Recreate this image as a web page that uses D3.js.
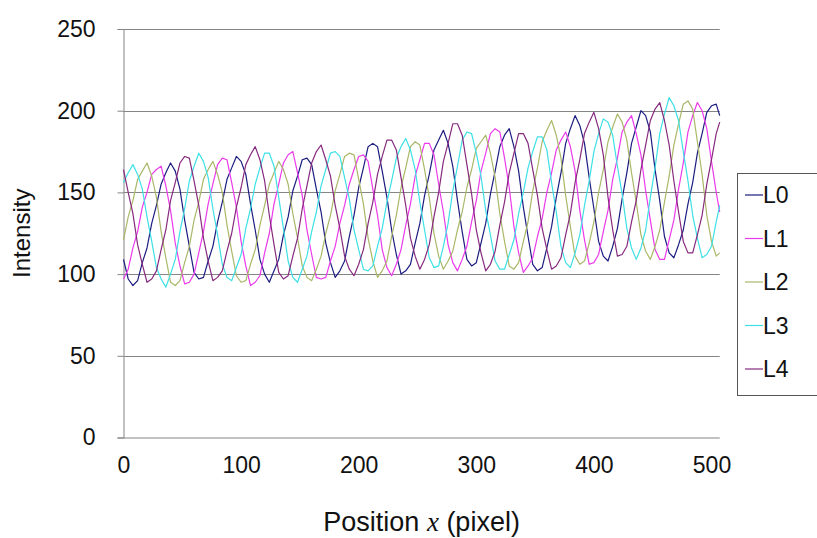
<!DOCTYPE html>
<html>
<head>
<meta charset="utf-8">
<script src="https://cdn.jsdelivr.net/npm/d3@7/dist/d3.min.js"></script>
<style>
  body { margin: 0; background: #fff; }
  svg { display: block; font-family: "Liberation Sans", Arial, sans-serif; }
</style>
</head>
<body>
<svg id="chart" width="817" height="538"></svg>
<script>
// Axis ticks and series labels
const xTicks = [0, 100, 200, 300, 400, 500];
const yTicks = [0, 50, 100, 150, 200, 250];
const seriesNames = ["L0", "L1", "L2", "L3", "L4"];
const seriesColors = ["#1c1c80", "#ea3aea", "#a9b868", "#3de0e6", "#862a7e"];

// Sample positions along the scan line (pixel), every 4 px up to the last column
const positions = d3.range(0, 505, 4).concat([507]);

// Intensity read at each sample position
const L0 = [109,97,93,96,107,116,131,142,155,162, 168,163,152,133,117,101,97,98,108,117,
            132,144,158,165,172,169,161,143,127,109, 100,95,102,109,124,135,151,160,170,171,
            167,152,138,119,107,98,102,108,123,136, 153,165,178,180,178,163,147,127,112,100,
            102,106,119,131,148,161,176,182,188,180, 166,145,126,109,105,107,119,131,149,163,
            178,185,189,178,163,141,123,106,102,104, 116,129,147,162,180,189,197,191,180,159,
            140,120,111,108,117,128,146,162,180,190, 200,197,187,164,145,123,113,110,118,127,
            143,156,174,186,199,203,204,197];
const L1 = [97,103,116,126,141,150,161,164,166,154, 139,119,105,94,95,100,113,126,143,155,
            167,171,170,156,141,120,105,93,95,99, 113,125,143,155,168,173,175,162,148,127,
            112,98,97,98,108,117,131,142,155,164, 172,173,169,152,136,115,104,99,106,115,
            130,143,160,170,180,180,173,155,138,118, 107,102,109,117,132,145,163,174,186,189,
            187,171,153,129,113,101,105,110,123,134, 150,162,176,182,187,178,163,139,121,106,
            107,112,126,139,158,171,187,193,197,186, 173,151,133,115,109,109,121,133,152,168,
            187,197,205,200,189,169,150,138];
const L2 = [121,135,145,158,163,168,160,147,126,110, 95,93,96,107,117,133,144,158,164,169,
            161,150,130,114,99,95,96,106,115,130, 142,155,162,169,164,155,137,122,105,98,
            96,103,111,125,136,151,161,172,174,173, 158,143,122,108,98,102,108,123,136,153,
            165,178,181,179,164,147,125,111,103,108, 114,127,138,153,164,177,181,185,174,159,
            137,120,105,103,107,120,132,151,165,181, 188,194,185,171,148,129,111,106,108,119,
            132,150,164,181,190,198,193,182,162,144, 124,114,109,117,127,144,160,179,192,204,
            206,201,181,161,136,120,111,113];
const L3 = [156,162,167,161,152,135,120,104,97,92, 100,109,126,140,157,166,174,169,159,140,
            124,106,98,96,104,112,128,140,155,165, 174,174,166,147,128,108,98,95,103,111,
            126,138,154,164,174,175,172,159,146,127, 115,103,102,105,117,128,144,157,171,178,
            183,176,164,144,127,110,104,105,117,131, 151,166,182,187,186,174,160,139,124,108,
            103,103,112,121,137,150,165,175,184,184, 176,156,138,117,107,104,113,124,142,157,
            175,186,195,193,185,166,149,128,116,109, 116,127,147,165,186,198,208,203,194,175,
            157,136,122,110,112,117,132,142];
const L4 = [164,150,137,118,106,95,97,102,115,127, 145,156,168,172,171,157,142,122,108,96,
            98,102,114,125,141,153,167,173,178,170, 157,136,118,101,97,99,111,122,140,154,
            168,175,179,170,160,142,128,111,103,99, 106,115,131,144,161,172,182,182,176,159,
            142,122,111,103,109,118,135,150,169,180, 192,192,185,167,149,127,113,102,106,114,
            130,144,162,174,186,186,180,164,148,128, 115,103,105,110,124,137,156,170,186,193,
            199,189,173,147,127,111,112,117,132,145, 164,179,194,201,205,194,179,157,138,120,
            113,113,124,136,155,170,186,193];

const seriesValues = [L0, L1, L2, L3, L4];

const svg = d3.select("#chart");

const x = d3.scaleLinear().domain([0, 500]).range([123.5, 711.5]);
const y = d3.scaleLinear().domain([0, 250]).range([437.5, 29]);

const xMin = x(positions[0]);
const xMax = x(positions[positions.length - 1]);
const gridColor = "#858585";
const textColor = "#111";

// horizontal gridlines
svg.append("g")
  .selectAll("line")
  .data(yTicks.filter(d => d > 0))
  .join("line")
  .attr("x1", xMin).attr("x2", xMax)
  .attr("y1", d => Math.round(y(d)) + 0.5).attr("y2", d => Math.round(y(d)) + 0.5)
  .attr("stroke", gridColor).attr("stroke-width", 1);

// y axis
const yAxis = d3.axisLeft(y).tickValues(yTicks).tickSize(6).tickPadding(22).tickFormat(d3.format("d"));
const gy = svg.append("g").attr("transform", `translate(${xMin},0)`).call(yAxis);
gy.select(".domain").attr("stroke", gridColor);
gy.selectAll(".tick line").attr("stroke", gridColor);
gy.selectAll(".tick text")
  .attr("font-size", 23).attr("fill", textColor)
  .attr("font-family", "Liberation Sans, Arial, sans-serif");

// x axis
const xAxis = d3.axisBottom(x).tickValues(xTicks).tickSize(0).tickPadding(19).tickFormat(d3.format("d"));
const gx = svg.append("g").attr("transform", `translate(0,${y(0)})`).call(xAxis);
gx.select(".domain").attr("d", `M${xMin},0.5H${xMax}`).attr("stroke", gridColor);
gx.selectAll(".tick text")
  .attr("font-size", 23).attr("fill", textColor)
  .attr("font-family", "Liberation Sans, Arial, sans-serif");

// intensity profiles
const line = d3.line()
  .x((d, i) => x(positions[i]))
  .y(d => y(d));

svg.append("g")
  .selectAll("path")
  .data(seriesValues)
  .join("path")
  .attr("d", line)
  .attr("fill", "none")
  .attr("stroke", (d, i) => seriesColors[i])
  .attr("stroke-width", 1.2)
  .attr("stroke-linejoin", "round");

// axis titles
svg.append("text")
  .attr("transform", `translate(30,${(y(0) + y(250)) / 2}) rotate(-90)`)
  .attr("text-anchor", "middle")
  .attr("font-size", 24)
  .attr("fill", textColor)
  .text("Intensity");

const xt = svg.append("text")
  .attr("x", (xMin + xMax) / 2)
  .attr("y", 531)
  .attr("text-anchor", "middle")
  .attr("font-size", 27)
  .attr("fill", textColor);
xt.append("tspan").text("Position ");
xt.append("tspan")
  .attr("font-family", "Liberation Serif, Times New Roman, serif")
  .attr("font-style", "italic")
  .text("x");
xt.append("tspan").text(" (pixel)");

// legend
const legend = svg.append("g").attr("transform", "translate(737,173)");
legend.append("rect")
  .attr("x", 0.5).attr("y", 0.5)
  .attr("width", 100).attr("height", 222)
  .attr("fill", "#fff").attr("stroke", "#555");
const item = legend.selectAll("g.item")
  .data(seriesNames)
  .join("g")
  .attr("class", "item")
  .attr("transform", (d, i) => `translate(0,${22 + i * 43.5})`);
item.append("line")
  .attr("x1", 8).attr("x2", 26)
  .attr("stroke", (d, i) => seriesColors[i]).attr("stroke-width", 1.2);
item.append("text")
  .attr("x", 26).attr("dy", "0.36em")
  .attr("font-size", 23).attr("fill", textColor)
  .text(d => d);
</script>
</body>
</html>
